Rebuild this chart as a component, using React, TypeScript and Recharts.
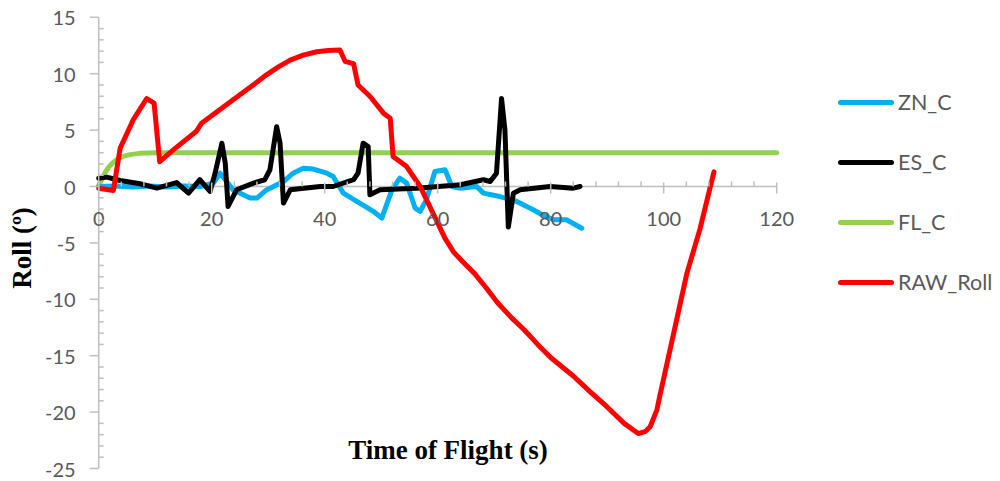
import { Line, LineChart, ReferenceLine, XAxis, YAxis } from 'recharts';

// Roll angle over flight time
const znC = [
  { t: 0, v: 0 }, { t: 3, v: 0.05 }, { t: 6, v: -0.05 }, { t: 9, v: 0.05 }, { t: 12, v: -0.05 },
  { t: 15, v: 0.05 }, { t: 18, v: 0 }, { t: 20.3, v: 0.3 }, { t: 21.5, v: 1.18 }, { t: 23.8, v: -0.3 },
  { t: 26.8, v: -1.03 }, { t: 28, v: -1.03 }, { t: 29.7, v: -0.3 }, { t: 32.7, v: 0.44 },
  { t: 34.4, v: 1.18 }, { t: 36.2, v: 1.62 }, { t: 38, v: 1.55 }, { t: 40.4, v: 1.18 },
  { t: 41.5, v: 0.89 }, { t: 43.3, v: -0.59 }, { t: 46.2, v: -1.47 }, { t: 48.6, v: -2.2 },
  { t: 50.1, v: -2.8 }, { t: 51.9, v: -0.3 }, { t: 53.3, v: 0.74 }, { t: 54.5, v: 0.3 },
  { t: 56, v: -1.91 }, { t: 56.9, v: -2.2 }, { t: 58, v: -1.18 }, { t: 59.5, v: 1.33 },
  { t: 61.3, v: 1.48 }, { t: 62.5, v: 0 }, { t: 64, v: -0.15 }, { t: 66.9, v: 0 },
  { t: 68.1, v: -0.59 }, { t: 71, v: -0.89 }, { t: 74, v: -1.33 }, { t: 76.9, v: -2.07 },
  { t: 78.5, v: -2.5 }, { t: 80.5, v: -2.95 }, { t: 82.8, v: -2.95 }, { t: 85.5, v: -3.7 },
];

const esC = [
  { t: 0, v: 0.74 }, { t: 1.4, v: 0.83 }, { t: 3.8, v: 0.53 }, { t: 7.3, v: 0.24 }, { t: 10.3, v: -0.15 },
  { t: 13.8, v: 0.35 }, { t: 15.9, v: -0.59 }, { t: 17.9, v: 0.6 }, { t: 19.7, v: -0.44 },
  { t: 20.6, v: 1.18 }, { t: 21.8, v: 3.84 }, { t: 22.4, v: 2.07 }, { t: 22.9, v: -1.77 },
  { t: 24.4, v: -0.29 }, { t: 27.4, v: 0.3 }, { t: 29.4, v: 0.6 }, { t: 30.3, v: 1.48 },
  { t: 31.5, v: 5.3 }, { t: 32.1, v: 3.84 }, { t: 32.7, v: -1.47 }, { t: 33.9, v: -0.29 },
  { t: 39.2, v: 0 }, { t: 41.5, v: 0 }, { t: 45.1, v: 0.6 }, { t: 45.9, v: 1.18 }, { t: 46.8, v: 3.84 },
  { t: 47.7, v: 3.54 }, { t: 48, v: -0.74 }, { t: 49.8, v: -0.29 }, { t: 56.3, v: -0.15 },
  { t: 64, v: 0.15 }, { t: 68.1, v: 0.6 }, { t: 69.3, v: 0.44 }, { t: 70.4, v: 1.18 },
  { t: 71.3, v: 7.8 }, { t: 71.9, v: 5.0 }, { t: 72.5, v: -3.6 }, { t: 73.4, v: -0.59 },
  { t: 74.6, v: -0.29 }, { t: 79.9, v: 0 }, { t: 84, v: -0.15 }, { t: 85.2, v: 0 },
];

const flC = [
  { t: 0, v: 0.1 }, { t: 0.7, v: 0.8 }, { t: 1.4, v: 1.45 }, { t: 2.5, v: 2.1 }, { t: 3.8, v: 2.55 },
  { t: 5.5, v: 2.82 }, { t: 7.3, v: 2.94 }, { t: 10, v: 3 }, { t: 120, v: 3 },
];

const rawRoll = [
  { t: 0, v: -0.15 }, { t: 2.6, v: -0.35 }, { t: 3.8, v: 3.4 }, { t: 6.1, v: 5.9 }, { t: 8.5, v: 7.8 },
  { t: 9.8, v: 7.4 }, { t: 10.8, v: 2.2 }, { t: 13.2, v: 3.25 }, { t: 17.3, v: 4.9 }, { t: 18.2, v: 5.6 },
  { t: 23.8, v: 7.7 }, { t: 26.8, v: 8.8 }, { t: 29.7, v: 9.9 }, { t: 31.8, v: 10.6 }, { t: 33.9, v: 11.2 },
  { t: 36.2, v: 11.65 }, { t: 38.6, v: 11.95 }, { t: 40.6, v: 12.05 }, { t: 42.7, v: 12.1 },
  { t: 43.6, v: 11.1 }, { t: 45.1, v: 10.9 }, { t: 45.9, v: 9.0 },
  { t: 48, v: 8.0 }, { t: 50.4, v: 6.5 }, { t: 51.6, v: 6.06 }, { t: 52.1, v: 2.66 },
  { t: 54.5, v: 1.77 }, { t: 56.9, v: 0 }, { t: 59.2, v: -2.4 }, { t: 61.3, v: -4.6 },
  { t: 62.8, v: -5.8 }, { t: 64.7, v: -6.8 }, { t: 66.5, v: -7.7 }, { t: 68.6, v: -9.0 },
  { t: 70.6, v: -10.3 }, { t: 73, v: -11.6 }, { t: 75.3, v: -12.7 }, { t: 77.7, v: -14.0 },
  { t: 80.1, v: -15.2 }, { t: 84, v: -16.8 }, { t: 87, v: -18.2 }, { t: 89.9, v: -19.5 }, { t: 93, v: -21 },
  { t: 95.5, v: -21.9 }, { t: 96.8, v: -21.7 }, { t: 97.6, v: -21.3 }, { t: 98.8, v: -19.8 },
  { t: 99.3, v: -18.6 }, { t: 102.3, v: -11.8 }, { t: 104.1, v: -7.7 }, { t: 106.4, v: -3.8 },
  { t: 108.9, v: 1.3 },
];

const xTicks = Array.from({ length: 31 }, (_, i) => i * 4);
const yTicks = Array.from({ length: 41 }, (_, i) => -25 + i);

const series = [
  { name: 'ZN_C', color: '#00B0F0' },
  { name: 'ES_C', color: '#000000' },
  { name: 'FL_C', color: '#92D050' },
  { name: 'RAW_Roll', color: '#FF0000' },
];

// chart is pulled up over the body margin so the svg spans the whole page height
const W = 984;
const H = 481;
const PLOT_TOP = 17.3;
const PLOT_H = 451.2;
const AXIS = '#BFBFBF';
const LABEL = '#595959';
const FONT = 'Lato, "Open Sans", sans-serif';
const TITLE = {
  position: 'absolute',
  whiteSpace: 'nowrap',
  fontFamily: '"Liberation Serif", serif',
  fontWeight: 'bold',
  fontSize: 27,
} as const;

function YTick({ x, y, payload }: any) {
  const v = payload.value;
  const major = v % 5 === 0;
  return (
    <g>
      {major ? (
        <>
          <line x1={x - 9} x2={x} y1={y} y2={y} stroke={AXIS} strokeWidth={1.5} />
          <text x={x - 23} y={y} textAnchor="end" dominantBaseline="central" fill={LABEL} fontSize={20} fontFamily={FONT}>
            {v}
          </text>
        </>
      ) : (
        <line x1={x} x2={x + 5} y1={y} y2={y} stroke={AXIS} strokeWidth={1.5} />
      )}
    </g>
  );
}

function XTick({ x, y, payload }: any) {
  const v = payload.value;
  const major = v % 20 === 0;
  // the x axis crosses at roll = 0
  const zy = y - (PLOT_H * 25) / 40;
  return (
    <g>
      {major ? (
        <>
          <line x1={x} x2={x} y1={zy - 4} y2={zy + 7} stroke={AXIS} strokeWidth={1.5} />
          <text x={x} y={zy + 31} textAnchor="middle" dominantBaseline="central" fill={LABEL} fontSize={20} fontFamily={FONT}>
            {v}
          </text>
        </>
      ) : (
        <line x1={x} x2={x} y1={zy - 5} y2={zy} stroke={AXIS} strokeWidth={1.5} />
      )}
    </g>
  );
}

export default function App() {
  const line = { dot: false, activeDot: false, isAnimationActive: false, strokeWidth: 5, strokeLinecap: 'round', strokeLinejoin: 'round' } as const;
  return (
    <div style={{ position: 'relative', width: W, height: H, marginTop: -8 }}>
      <LineChart
        width={W}
        height={H}
        margin={{ top: PLOT_TOP, right: 215.3, bottom: 3, left: 0 }}
        style={{ overflow: 'visible' }}
      >
        <XAxis
          type="number"
          dataKey="t"
          domain={[0, 120]}
          ticks={xTicks}
          interval={0}
          axisLine={false}
          tickLine={false}
          tickSize={0}
          tickMargin={0}
          height={9.5}
          tick={<XTick />}
          allowDuplicatedCategory={false}
        />
        <YAxis
          type="number"
          domain={[-25, 15]}
          ticks={yTicks}
          interval={0}
          width={90.7}
          axisLine={{ stroke: AXIS, strokeWidth: 1.5 }}
          tickLine={false}
          tickSize={0}
          tickMargin={0}
          tick={<YTick />}
        />
        <ReferenceLine y={0} stroke={AXIS} strokeWidth={1.5} />
        <Line {...line} data={flC} dataKey="v" name="FL_C" stroke="#92D050" type="monotone" />
        <Line {...line} data={znC} dataKey="v" name="ZN_C" stroke="#00B0F0" type="linear" />
        <Line {...line} data={esC} dataKey="v" name="ES_C" stroke="#000000" type="linear" />
        <Line {...line} data={rawRoll} dataKey="v" name="RAW_Roll" stroke="#FF0000" type="linear" />
      </LineChart>
      <div style={{ position: 'absolute', left: 830, top: 72 }}>
        {series.map((s) => (
          <div key={s.name} style={{ display: 'flex', alignItems: 'center', height: 60 }}>
            <div style={{ width: 56, height: 5, borderRadius: 3, background: s.color, marginRight: 4 }} />
            <span style={{ color: LABEL, fontSize: 21.5, fontFamily: FONT }}>{s.name}</span>
          </div>
        ))}
      </div>
      <div style={{ ...TITLE, left: 14, top: 248, transform: 'translate(-50%, -50%) rotate(-90deg)' }}>
        Roll (º)
      </div>
      <div style={{ ...TITLE, left: 440, top: 450, transform: 'translate(-50%, -50%)' }}>
        Time of Flight (s)
      </div>
    </div>
  );
}
